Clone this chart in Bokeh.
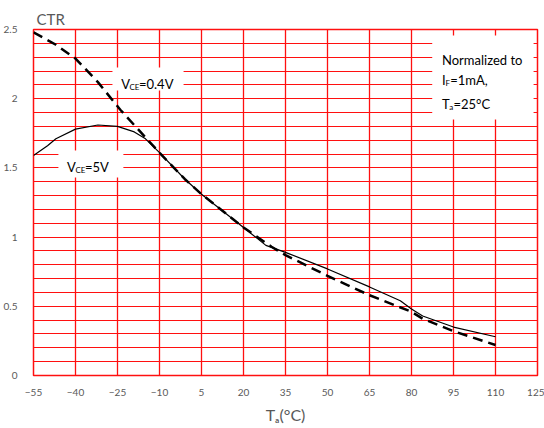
from bokeh.plotting import figure
from bokeh.models import FixedTicker, BoxAnnotation, Label
from bokeh.embed import file_html
from bokeh.resources import INLINE

# ---- data ----
x_ticks = [-55, -40, -25, -10, 5, 20, 35, 50, 65, 80, 95, 110, 125]
y_ticks = [0, 0.5, 1, 1.5, 2, 2.5]
y_minor = [round(i * 0.1, 1) for i in range(26)]

temp_04 = [-55, -47, -40, -32, -24, -15, -10, -1, 5, 20, 30, 35, 50, 65, 80, 84, 95, 110]
ctr_04 = [2.48, 2.39, 2.29, 2.12, 1.92, 1.72, 1.61, 1.42, 1.31, 1.07, 0.93, 0.87, 0.72, 0.58, 0.46, 0.41, 0.32, 0.22]

temp_5 = [-55, -50, -47, -40, -32, -25, -19, -15, -10, -1, 5, 20, 28, 35, 50, 65, 76, 80, 84, 95, 110]
ctr_5 = [1.59, 1.66, 1.71, 1.78, 1.81, 1.80, 1.76, 1.71, 1.61, 1.42, 1.31, 1.07, 0.94, 0.89, 0.77, 0.64, 0.54, 0.48, 0.43, 0.35, 0.28]

GRAY = "#595959"
FONT = "Lato"
RED = "#ff1010"

p = figure(width=544, height=428, x_range=(-55, 125), y_range=(0, 2.5),
           output_backend="svg", toolbar_location=None,
           min_border_left=33, min_border_right=7, min_border_top=29, min_border_bottom=53)

p.outline_line_color = RED
p.outline_line_width = 1.5
p.background_fill_color = "white"
p.border_fill_color = "white"

# "CTR" as a left-aligned title above the frame
p.title.text = "CTR"
p.title.align = "left"
p.title.offset = 3
p.title.standoff = 3
p.title.text_color = GRAY
p.title.text_font = FONT
p.title.text_font_size = "15px"
p.title.text_font_style = "normal"

p.xaxis.ticker = FixedTicker(ticks=x_ticks)
p.yaxis.ticker = FixedTicker(ticks=y_ticks, minor_ticks=y_minor)
for ax in (p.xaxis, p.yaxis):
    ax.axis_line_color = None
    ax.major_tick_line_color = None
    ax.minor_tick_line_color = None
    ax.major_label_text_color = GRAY
    ax.major_label_text_font = FONT
    ax.major_label_text_font_size = "10px"
p.yaxis.major_label_standoff = 10
p.xaxis.major_label_standoff = 7

p.xaxis.axis_label = "T\u2090(\u00b0C)"
p.xaxis.axis_label_text_color = GRAY
p.xaxis.axis_label_text_font = FONT
p.xaxis.axis_label_text_font_size = "16px"
p.xaxis.axis_label_text_font_style = "normal"
p.xaxis.axis_label_standoff = 6

p.xgrid.grid_line_color = RED
p.xgrid.grid_line_width = 1.3
p.ygrid.grid_line_color = RED
p.ygrid.grid_line_width = 1.2
p.ygrid.minor_grid_line_color = RED
p.ygrid.minor_grid_line_width = 1.2

# white boxes behind annotations
p.add_layout(BoxAnnotation(left=-26.8, right=-1.4, bottom=2.06, top=2.225,
                           fill_color="white", fill_alpha=1, line_color=None))
p.add_layout(BoxAnnotation(left=-46.1, right=-22.9, bottom=1.43, top=1.626,
                           fill_color="white", fill_alpha=1, line_color=None))
p.add_layout(BoxAnnotation(left=87.4, right=123.6, bottom=1.85, top=2.457,
                           fill_color="white", fill_alpha=1, line_color=None))

# curves
p.line(temp_5, ctr_5, line_color="black", line_width=1.2)
p.line(temp_04, ctr_04, line_color="black", line_width=2.5, line_dash="10 6")


def sub_label(x, y, parts, color="black", size=13, sub_size=8, font=FONT):
    """parts: list of (text, is_sub, x_offset_px)"""
    for text, is_sub, dx in parts:
        p.add_layout(Label(x=x, y=y, x_offset=dx, y_offset=-3 if is_sub else 0,
                           text=text, text_color=color, text_font=font,
                           text_font_size=f"{sub_size if is_sub else size}px",
                           text_baseline="alphabetic", text_align="left"))


sub_label(-23.7, 2.108, [("V", False, 0), ("CE", True, 8.3), ("=0.4V", False, 17.8)])
sub_label(-43.0, 1.505, [("V", False, 0), ("CE", True, 8.3), ("=5V", False, 17.8)])

p.add_layout(Label(x=90.9, y=2.281, text="Normalized to", text_color="black",
                   text_font=FONT, text_font_size="13px", text_baseline="alphabetic"))
sub_label(90.9, 2.136, [("I", False, 0), ("F", True, 3.6), ("=1mA,", False, 8.2)])
sub_label(90.9, 1.963, [("T", False, 0), ("a", True, 7.2), ("=25\u00b0C", False, 11.4)])

open("out.html", "w").write(file_html(p, INLINE))
